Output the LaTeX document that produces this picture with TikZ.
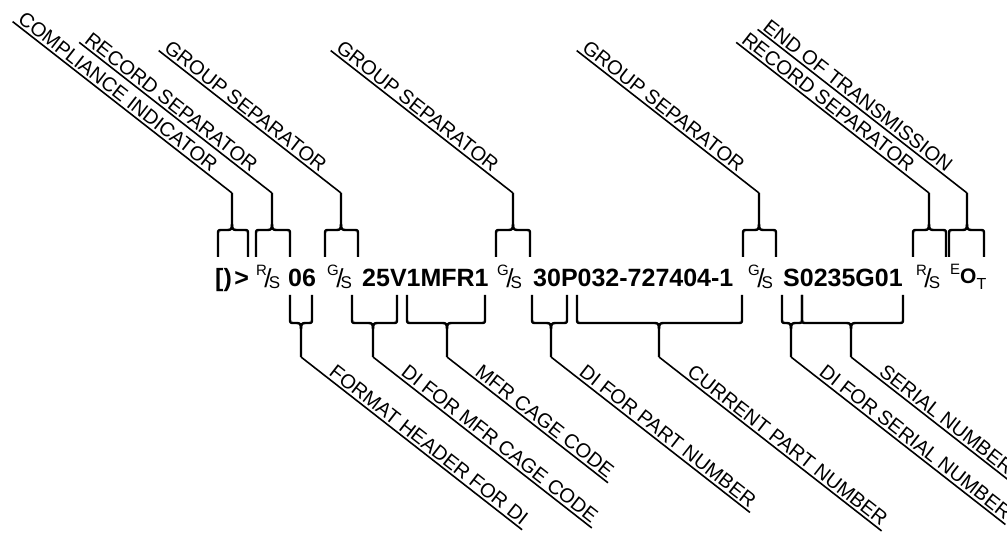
\documentclass[tikz,border=0pt]{standalone}
\usepackage{fontspec}
\setmainfont{Liberation Sans}
\usetikzlibrary{calc}
\newcommand\TopBrace[4]{%
  \draw[brc] (#1,257) -- (#1,234.5) .. controls (#1,230) .. (#1+4.5,230) -- (#2-4.5,230) .. controls (#2-1,230) and (#2,229) .. (#2,224) -- (#2,193);
  \draw[brc] (#3,257) -- (#3,234.5) .. controls (#3,230) .. (#3-4.5,230) -- (#2+4.5,230) .. controls (#2+1,230) and (#2,229) .. (#2,224);
  \coordinate (#4) at (#2,193);}
\newcommand\BotBrace[4]{%
  \draw[brc] (#1,295) -- (#1,318.5) .. controls (#1,323) .. (#1+4.5,323) -- (#2-4.5,323) .. controls (#2-1,323) and (#2,324) .. (#2,329) -- (#2,357);
  \draw[brc] (#3,295) -- (#3,318.5) .. controls (#3,323) .. (#3-4.5,323) -- (#2+4.5,323) .. controls (#2+1,323) and (#2,324) .. (#2,329);
  \coordinate (#4) at (#2,357);}
\newcommand\TopLabel[3]{%
  \node[lbl, rotate=-38, anchor=south east] (#2) at ($(#1)+(142:26pt)$) {#3};
  \draw[lead] (#1) -- (#2.south west);}
\newcommand\BotLabel[3]{%
  \node[lbl, rotate=-38, anchor=south west] (#2) at ($(#1)+(-38:29pt)$) {#3};
  \draw[lead] (#1) -- (#2.south east);}
\newcommand\SepSym[2]{%
  \raisebox{11.3pt}{\fontsize{15}{15}\selectfont\mdseries #1}\kern-2.6pt%
  \raisebox{-0.5pt}{\fontsize{26}{26}\selectfont\mdseries /}\kern-2.8pt%
  \raisebox{-1.8pt}{\fontsize{17}{17}\selectfont\mdseries #2}}
\begin{document}
\begin{tikzpicture}[x=1pt,y=-1pt,
  lbl/.style={font=\fontsize{20}{24}\selectfont, inner xsep=3pt, inner ysep=2.5pt},
  tok/.style={font=\fontsize{25}{30}\selectfont\bfseries, inner sep=0pt, anchor=base west},
  brc/.style={line width=2.4pt, line join=round, line cap=butt},
  lead/.style={line width=1.6pt}]
\useasboundingbox (0,0) rectangle (1007,537);
\clip (0,0) rectangle (1007,537);

% data string
\node[tok] (ci)  at (215,287) {[)\kern2.5pt>};
\node[tok] (rs1) at (256,287) {\SepSym{R}{S}};
\node[tok] (fh)  at (288,287) {06};
\node[tok] (gs1) at (327,287) {\SepSym{G}{S}};
\node[tok] (cage) at (362,287) {25V1MFR1};
\node[tok] (gs2) at (497,287) {\SepSym{G}{S}};
\node[tok] (pn)  at (533,287) {30P032-727404-1};
\node[tok] (gs3) at (748,287) {\SepSym{G}{S}};
\node[tok] (sn)  at (783,287) {S0235G01};
\node[tok] (rs2) at (916,287) {\SepSym{R}{S}};
\node[tok] (eot) at (950,287) {\raisebox{12.3pt}{\fontsize{15}{15}\selectfont\mdseries E}\raisebox{3pt}{\fontsize{21}{21}\selectfont O}\raisebox{-3pt}{\fontsize{16}{16}\selectfont\mdseries T}};

% top braces and labels
\TopBrace{218}{232}{248}{ts1}
\TopBrace{256}{272}{290}{ts2}
\TopBrace{325}{341}{358}{ts3}
\TopBrace{496}{513}{530}{ts4}
\TopBrace{743}{759}{776}{ts5}
\TopBrace{913}{929}{946}{ts6}
\TopBrace{949}{967}{984}{ts7}
\TopLabel{ts1}{tl1}{COMPLIANCE INDICATOR}
\TopLabel{ts2}{tl2}{RECORD SEPARATOR}
\TopLabel{ts3}{tl3}{GROUP SEPARATOR}
\TopLabel{ts4}{tl4}{GROUP SEPARATOR}
\TopLabel{ts5}{tl5}{GROUP SEPARATOR}
\TopLabel{ts6}{tl6}{RECORD SEPARATOR}
\TopLabel{ts7}{tl7}{END OF TRANSMISSION}

% bottom braces and labels
\BotBrace{290}{301}{312}{bs1}
\BotBrace{352}{373}{397}{bs2}
\BotBrace{407}{447}{485}{bs3}
\BotBrace{532}{551}{567}{bs4}
\BotBrace{577}{659}{742}{bs5}
\BotBrace{782}{791}{802}{bs6}
\BotBrace{802}{851}{903}{bs7}
\BotLabel{bs1}{bl1}{FORMAT HEADER FOR DI}
\BotLabel{bs2}{bl2}{DI FOR MFR CAGE CODE}
\BotLabel{bs3}{bl3}{MFR CAGE CODE}
\BotLabel{bs4}{bl4}{DI FOR PART NUMBER}
\BotLabel{bs5}{bl5}{CURRENT PART NUMBER}
\BotLabel{bs6}{bl6}{DI FOR SERIAL NUMBER}
\BotLabel{bs7}{bl7}{SERIAL NUMBER}
\end{tikzpicture}
\end{document}
